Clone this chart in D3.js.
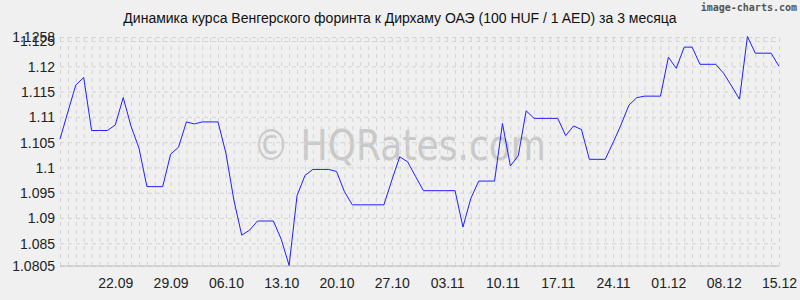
<!DOCTYPE html>
<html lang="ru">
<head>
  <meta charset="UTF-8" />
  <title>HUF / AED</title>
  <script src="https://d3js.org/d3.v7.min.js"></script>
  <style>
    body { margin: 0; background: #f0f0f0; }
    text { font-family: "Liberation Sans", Arial, sans-serif; }
    .grid line { stroke: #d4d4d4; stroke-dasharray: 4 4; }
    .grid .domain { display: none; }
    .axis .domain, .axis line { display: none; }
    .axis text { font-size: 14px; fill: #222; }
  </style>
</head>
<body>
  <svg id="chart" width="800" height="300"></svg>
  <script>
    // daily points, 15.09 .. 15.12
    const startDate = new Date(2023, 8, 15);
    const rates = [
      1.1056, 1.1110, 1.1163, 1.1178, 1.1073, 1.1073, 1.1073, 1.1084, 1.1138, 1.1081,
      1.1038, 1.0962, 1.0962, 1.0962, 1.1026, 1.1040, 1.1090, 1.1086, 1.1090, 1.1090,
      1.1090, 1.1028, 1.0936, 1.0866, 1.0876, 1.0894, 1.0894, 1.0894, 1.0858, 1.0806,
      1.0944, 1.0984, 1.0996, 1.0996, 1.0996, 1.0992, 1.0952, 1.0926, 1.0926, 1.0926,
      1.0926, 1.0926, 1.0975, 1.1021, 1.1011, 1.0982, 1.0954, 1.0954, 1.0954, 1.0954,
      1.0954, 1.0882, 1.0939, 1.0973, 1.0973, 1.0973, 1.1087, 1.1003, 1.1023, 1.1112,
      1.1097, 1.1097, 1.1097, 1.1097, 1.1063, 1.1082, 1.1075, 1.1016, 1.1016, 1.1016,
      1.1049, 1.1084, 1.1123, 1.1138, 1.1141, 1.1141, 1.1141, 1.1218, 1.1196, 1.1238,
      1.1238, 1.1204, 1.1204, 1.1204, 1.1186, 1.1161, 1.1135, 1.1259, 1.1226, 1.1226,
      1.1226, 1.1200
    ];
    const yTicks = [1.0805, 1.085, 1.09, 1.095, 1.1, 1.105, 1.11, 1.115, 1.12, 1.125, 1.1258];
    const xTickLabels = ["22.09", "29.09", "06.10", "13.10", "20.10", "27.10", "03.11",
      "10.11", "17.11", "24.11", "01.12", "08.12", "15.12"];
    const titleText = "Динамика курса Венгерского форинта к Дирхаму ОАЭ (100 HUF / 1 AED) за 3 месяца";

    const svg = d3.select("svg#chart");
    const margin = { top: 37, right: 21, bottom: 34, left: 60 };
    const width = +svg.attr("width");
    const height = +svg.attr("height");

    const dates = rates.map((d, i) => d3.timeDay.offset(startDate, i));
    const parseLabel = (s) => new Date(2023, +s.slice(3) - 1, +s.slice(0, 2));

    const x = d3.scaleTime()
      .domain(d3.extent(dates))
      .range([margin.left, width - margin.right]);
    const y = d3.scaleLinear()
      .domain([1.0805, 1.1258])
      .range([height - margin.bottom, margin.top]);

    // watermark
    svg.append("text")
      .attr("x", 253)
      .attr("y", 160)
      .attr("font-size", 42)
      .attr("textLength", 293)
      .attr("lengthAdjust", "spacingAndGlyphs")
      .attr("fill", "#c9c9c9")
      .style("font-family", "'DejaVu Sans', Verdana, sans-serif")
      .text("© HQRates.com");

    // gridlines
    svg.append("g")
      .attr("class", "grid")
      .attr("transform", `translate(0,${height - margin.bottom})`)
      .call(d3.axisBottom(x).tickValues(dates).tickSize(-(height - margin.top - margin.bottom)).tickFormat(""));
    svg.append("g")
      .attr("class", "grid")
      .attr("transform", `translate(${margin.left},0)`)
      .call(d3.axisLeft(y).tickValues(yTicks).tickSize(-(width - margin.left - margin.right)).tickFormat(""));

    // bottom base line
    svg.append("line")
      .attr("x1", margin.left)
      .attr("x2", width - margin.right)
      .attr("y1", y(1.0805))
      .attr("y2", y(1.0805))
      .attr("stroke", "#bdbdbd");

    // axes
    svg.append("g")
      .attr("class", "axis")
      .attr("transform", `translate(${margin.left - 2},0)`)
      .call(d3.axisLeft(y).tickValues(yTicks).tickSize(0).tickFormat(d3.format("")))
      .selectAll("text")
      .attr("dy", "0.35em");
    svg.append("g")
      .attr("class", "axis")
      .attr("transform", `translate(0,${height - margin.bottom + 4})`)
      .call(d3.axisBottom(x).tickValues(xTickLabels.map(parseLabel)).tickSize(0).tickFormat(d3.timeFormat("%d.%m")))
      .selectAll("text")
      .attr("dy", "1.05em");

    // line
    const line = d3.line()
      .x((d, i) => x(dates[i]))
      .y((d) => y(d));
    svg.append("path")
      .datum(rates)
      .attr("fill", "none")
      .attr("stroke", "#2020ff")
      .attr("stroke-width", 1)
      .attr("d", line);

    // title
    svg.append("text")
      .attr("x", 400)
      .attr("y", 23)
      .attr("text-anchor", "middle")
      .attr("font-size", 14)
      .attr("fill", "#111")
      .text(titleText);

    svg.append("text")
      .attr("x", 797)
      .attr("y", 11)
      .attr("text-anchor", "end")
      .attr("font-size", 10)
      .attr("font-weight", "bold")
      .attr("fill", "#555")
      .style("font-family", "'DejaVu Sans Mono', monospace")
      .text("image-charts.com");
  </script>
</body>
</html>
